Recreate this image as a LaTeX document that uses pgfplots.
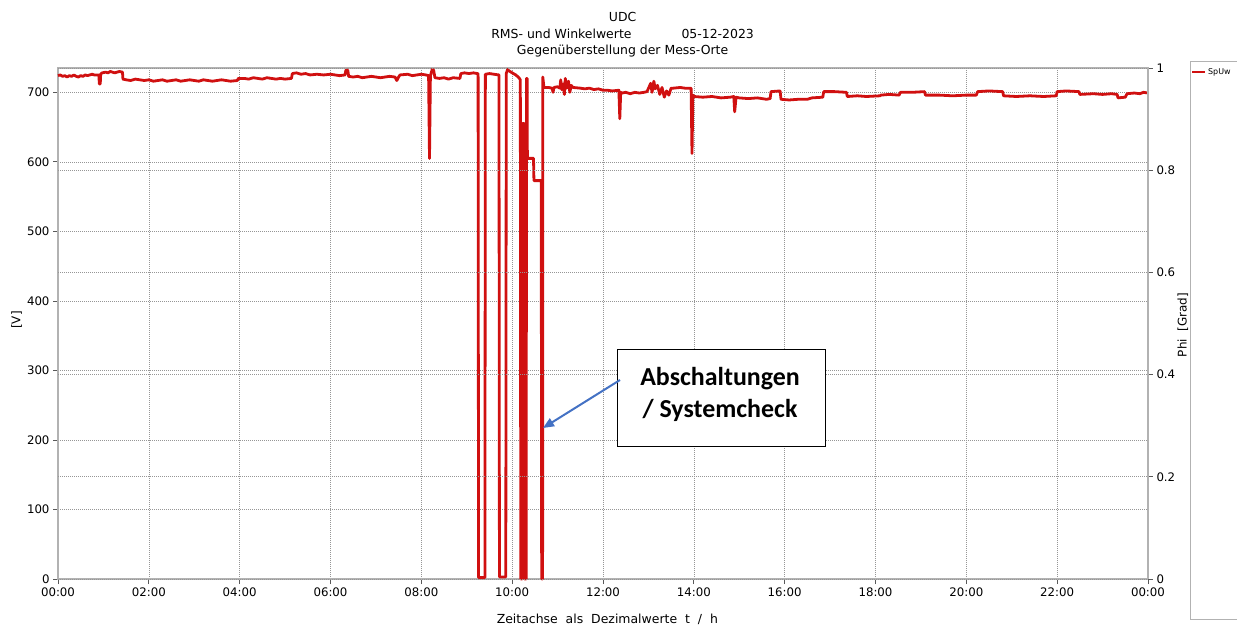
\documentclass[border=0pt]{standalone}
\usepackage{fontspec}
\setmainfont{DejaVu Sans}
\newfontfamily\carlito{Carlito}
\usepackage{pgfplots}
\pgfplotsset{compat=1.18}
\usetikzlibrary{arrows.meta}
\definecolor{trace}{RGB}{208,16,16}
\definecolor{arrowblue}{RGB}{68,114,196}
\definecolor{gridc}{RGB}{150,150,150}
\begin{document}
\begin{tikzpicture}
\path[use as bounding box] (0,0) rectangle (1237bp,628bp);
\begin{axis}[
  scale only axis, width=1090bp, height=511bp,
  at={(58bp,49bp)}, anchor=south west,
  xmin=0, xmax=24, ymin=0, ymax=735,
  xtick={0,2,...,24},
  xticklabels={00:00,02:00,04:00,06:00,08:00,10:00,12:00,14:00,16:00,18:00,20:00,22:00,00:00},
  ytick={0,100,...,700},
  xtick pos=bottom, ytick pos=left,
  tick align=outside, major tick length=5bp,
  tick style={gray!70!black, line width=0.8bp},
  axis line style={gray!60, line width=1.2bp},
  xmajorgrids, ymajorgrids,
  grid style={gridc, line width=0.6bp, dash pattern=on 1bp off 1bp},
  tick label style={font=\fontsize{11.8}{13}\selectfont},
  /pgf/number format/assume math mode=true,
  /pgf/number format/1000 sep={},
  xlabel={Zeitachse\ \ als\ \ Dezimalwerte\ \ t\ \ /\ \ h},
  xlabel style={font=\fontsize{12.5}{14}\selectfont, at={(axis description cs:0.504,-0.078)}, anchor=center},
  ylabel={[V]},
  ylabel style={font=\fontsize{12}{14}\selectfont, at={(axis description cs:-0.038,0.507)}, anchor=center},
  title={UDC\\RMS- und Winkelwerte\hspace{50bp}05-12-2023\\Gegenüberstellung der Mess-Orte},
  title style={font=\fontsize{12.5}{16.5}\selectfont, align=center, at={(axis description cs:0.518,1.053)}, anchor=center},
  clip=false,
  legend style={at={(axis description cs:1.0385,0.992)}, anchor=west, draw=none, fill=none,
    font=\fontsize{8}{9}\selectfont, inner sep=1bp},
  legend image code/.code={\draw[#1, line width=2bp] (0bp,0bp) -- (13bp,0bp);},
]
\addplot[trace, line width=2.8bp, line join=round] coordinates {
(0,724)(0.05,725)(0.1,723)(0.15,724)(0.2,722)(0.25,724)(0.3,723)(0.35,725)(0.4,723)(0.45,722)(0.5,724)(0.55,723)(0.6,725)(0.65,724)(0.7,725)(0.75,726)(0.8,725)(0.87,725)
(0.90,725)(0.91,712)(0.93,712)(0.94,726)
(0.97,728)(1.05,729)(1.1,728)(1.15,730)(1.2,729)(1.25,728)(1.3,729)(1.35,730)(1.42,729)
(1.43,719)(1.5,718)(1.6,717)(1.7,719)(1.8,718)(1.9,717)(2.0,718)(2.1,716)(2.2,717)(2.3,718)(2.4,716)(2.5,717)(2.6,718)(2.7,716)(2.8,717)(2.9,718)(3.0,717)(3.1,716)(3.2,718)(3.3,717)(3.4,716)(3.5,717)(3.6,718)(3.7,717)(3.8,716)(3.95,717)
(3.97,720)(4.1,720)(4.2,719)(4.3,721)(4.4,720)(4.5,719)(4.6,721)(4.7,720)(4.8,719)(4.9,720)(5.0,719)(5.14,720)
(5.16,727)(5.25,728)(5.35,726)(5.45,727)(5.55,725)(5.7,726)(5.85,725)(6.0,726)(6.1,725)(6.2,724)(6.32,725)
(6.34,732)(6.38,732)(6.40,723)(6.5,722)(6.6,723)(6.7,721)(6.8,722)(6.9,723)(7.0,722)(7.1,721)(7.2,722)(7.3,723)(7.42,722)(7.46,717)(7.50,722)(7.53,725)(7.7,726)(7.8,724)(7.9,725)(8.0,726)(8.1,725)(8.16,724)
(8.18,605)(8.20,724)(8.24,733)(8.27,732)(8.30,721)(8.4,720)(8.5,721)(8.6,719)(8.7,721)(8.85,720)(8.87,727)(8.95,728)(9.05,727)(9.15,728)(9.23,727)
(9.25,727)(9.26,2)(9.40,2)(9.41,726)(9.5,727)(9.6,726)(9.71,725)(9.72,3)(9.86,3)(9.87,727)(9.90,733)(9.93,731)(10.0,728)(10.08,725)(10.15,721)(10.18,718)
(10.19,0)(10.22,0)(10.225,655)(10.27,655)(10.275,0)(10.31,0)(10.315,720)(10.33,720)(10.335,605)(10.47,605)(10.48,573)(10.64,573)(10.65,0)(10.67,0)(10.675,722)
(10.70,707)(10.8,707)(10.88,706)(10.90,700)(10.92,707)(11.0,708)(11.05,706)(11.07,718)(11.09,704)(11.12,712)(11.15,697)(11.17,720)(11.20,706)(11.24,716)(11.27,700)(11.30,710)(11.34,707)(11.5,706)(11.6,705)(11.7,706)(11.8,704)(11.9,705)(12.0,703)(12.1,703)(12.2,702)(12.35,703)(12.37,662)(12.39,700)(12.42,699)(12.5,700)(12.6,698)(12.7,700)(12.8,699)(12.9,700)(12.97,701)(13.05,713)(13.08,700)(13.12,716)(13.15,705)(13.2,710)(13.25,697)(13.3,707)(13.35,693)(13.4,702)(13.45,696)(13.5,706)(13.55,706)(13.7,707)(13.8,706)(13.94,706)(13.96,612)(13.98,696)
(14.0,694)(14.2,693)(14.4,694)(14.6,692)(14.8,693)(14.88,694)(14.90,672)(14.93,693)(15.0,692)(15.2,691)(15.4,692)(15.6,690)(15.68,691)(15.70,701)(15.9,702)(15.92,690)(16.1,689)(16.3,690)(16.5,690)(16.6,692)(16.84,693)(16.86,701)(17.1,701)(17.36,700)(17.38,694)(17.6,695)(17.8,694)(18.1,695)(18.12,696)(18.3,697)(18.52,696)(18.55,700)(18.8,700)(19.08,701)(19.10,696)(19.4,696)(19.7,695)(20.0,696)(20.22,696)(20.25,701)(20.5,702)(20.8,701)(20.82,695)(21.1,694)(21.4,695)(21.7,694)(21.98,695)(22.0,701)(22.2,702)(22.48,701)(22.5,697)(22.8,698)(23.0,697)(23.2,698)(23.32,697)(23.34,692)(23.5,693)(23.54,698)(23.7,699)(23.82,698)(23.9,700)(24.0,699)
};
\addlegendentry{SpUw}
\end{axis}
\begin{axis}[
  scale only axis, width=1090bp, height=511bp,
  at={(58bp,49bp)}, anchor=south west,
  xmin=0, xmax=24, ymin=0, ymax=1,
  axis x line=none, axis y line*=right,
  ytick={0,0.2,0.4,0.6,0.8,1},
  yticklabels={0,0.2,0.4,0.6,0.8,1},
  tick align=outside, major tick length=5bp,
  tick style={gray!70!black, line width=0.8bp},
  axis line style={gray!60, line width=1.2bp},
  ymajorgrids,
  grid style={gridc, line width=0.6bp, dash pattern=on 1bp off 1bp},
  tick label style={font=\fontsize{11.8}{13}\selectfont},
  /pgf/number format/assume math mode=true,
  ylabel={Phi\ \ [Grad]},
  ylabel style={font=\fontsize{12}{14}\selectfont, at={(axis description cs:1.032,0.497)}, anchor=center},
]
\addplot[draw=none] coordinates {(0,0)(24,1)};
\end{axis}
% legend frame
\draw[gray!60, line width=1bp] (1237bp,566bp) -- (1190bp,566bp) -- (1190bp,8bp) -- (1237bp,8bp);
% annotation
\draw[black, line width=1bp, fill=white] (617bp,181bp) rectangle (825bp,278bp);
\node[align=center, font=\carlito\bfseries\fontsize{26}{32}\selectfont, anchor=center] at (720bp,233.5bp) {Abschaltungen\\/ Systemcheck};
\draw[arrowblue, line width=2bp, -{Triangle[length=11bp,width=9bp]}] (620bp,248bp) -- (543bp,200bp);
\end{tikzpicture}
\end{document}
